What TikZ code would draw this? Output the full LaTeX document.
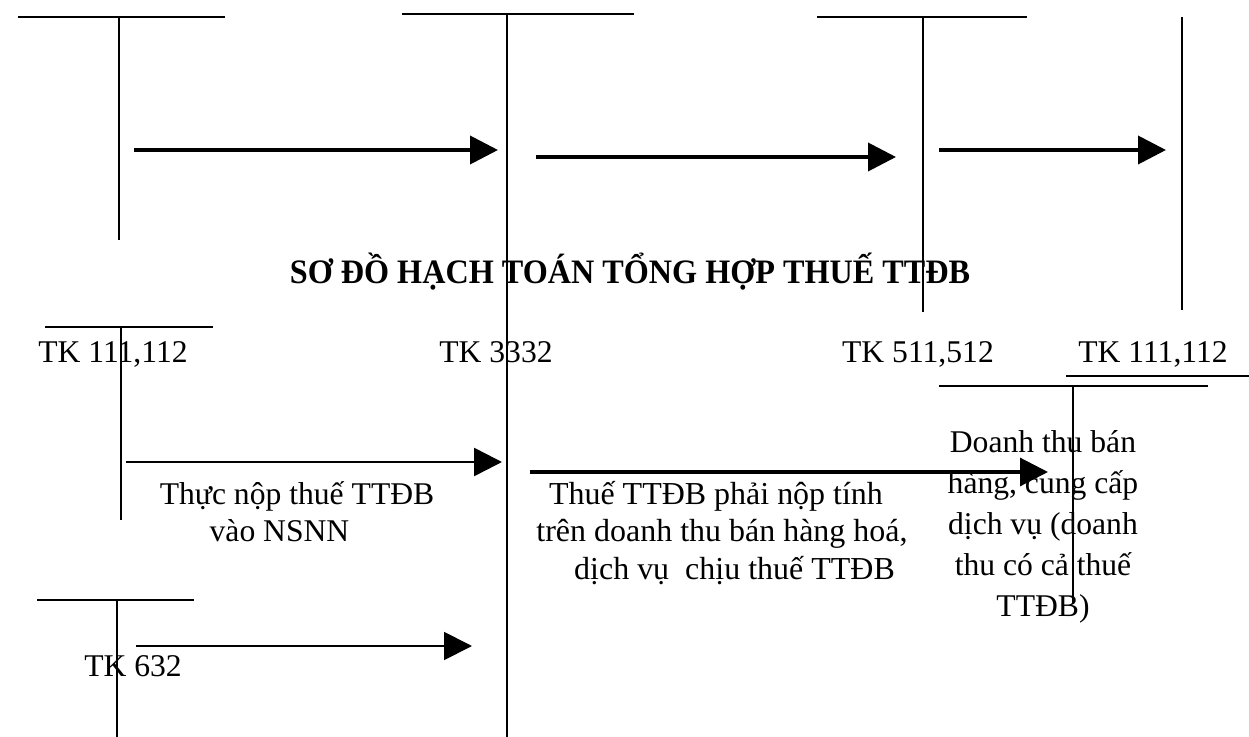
\documentclass[tikz,border=0pt]{standalone}
\usepackage{graphicx}
\usepackage{fontspec}
\setmainfont{Liberation Serif}
\usetikzlibrary{arrows.meta}
\begin{document}
\begin{tikzpicture}[x=0.02cm, y=-0.02cm,
  tline/.style={line width=0.85pt},
  flow/.style={line width=1.5pt, -{Triangle[length=0.56cm, width=0.56cm]}},
  lbl/.style={inner sep=0pt, anchor=base, font=\fontsize{18}{25}\selectfont},
  txt/.style={lbl, align=center, anchor=north}]
  \useasboundingbox (0,0) rectangle (1249,737);
  % T accounts
  \foreach \l/\r/\y/\x/\b in {18/225/17/119/240, 402/634/14/507/737,
      817/1027/17/923/312, 45/213/327/121/520, 37/194/600/117/737} {
    \draw[tline] (\l,\y) -- (\r,\y);
    \draw[tline] (\x,\y) -- (\x,\b);
  }
  \draw[tline] (1182,17) -- (1182,310);
  \draw[tline] (939,386) -- (1208,386);
  \draw[tline] (1073,386) -- (1073,604);
  \draw[tline] (1066,376) -- (1249,376);
  % Title
  \node[inner sep=0pt, anchor=base, font=\bfseries\fontsize{19.5}{23}\selectfont]
    (title) at (630,283) {\scalebox{0.94}[1]{SƠ ĐỒ HẠCH TOÁN TỔNG HỢP THUẾ TTĐB}};
  % Account names
  \node[lbl] (tk111) at (113,362) {TK 111,112};
  \node[lbl] (tk3332) at (496,362) {TK 3332};
  \node[lbl] (tk511) at (918,362) {TK 511,512};
  \node[lbl] (tk111b) at (1153,362) {TK 111,112};
  \node[lbl] (tk632) at (133,676) {TK 632};
  % Arrow ends
  \coordinate (a1s) at (134,150); \coordinate (a1e) at (498,150);
  \coordinate (a2s) at (536,157); \coordinate (a2e) at (896,157);
  \coordinate (a3s) at (939,150); \coordinate (a3e) at (1166,150);
  \coordinate (a4s) at (126,462); \coordinate (a4e) at (502,462);
  \coordinate (a5s) at (530,472); \coordinate (a5e) at (1048,472);
  \coordinate (a6s) at (136,646); \coordinate (a6e) at (472,646);
  \draw[flow, line width=2.2pt] (a1s) -- (a1e);
  \draw[flow, line width=2.2pt] (a2s) -- (a2e);
  \draw[flow, line width=2.2pt] (a3s) -- (a3e);
  \draw[flow] (a4s) -- (a4e);
  \draw[flow, line width=1.8pt] (a5s) -- (a5e);
  \draw[flow, line width=1.1pt] (a6s) -- (a6e);
  % Explanations
  \node[txt, font=\fontsize{18}{21.2}\selectfont] (pay) at (297,481)
    {Thực nộp thuế TTĐB\\vào NSNN\hspace*{0.7cm}};
  \node[txt, font=\fontsize{18.2}{21.2}\selectfont] (tax) at (722,481)
    {Thuế TTĐB phải nộp tính\hspace*{0.24cm}\\trên doanh thu bán hàng hoá,\\\hspace*{0.5cm}dịch vụ~ chịu thuế TTĐB};
  \node[txt, font=\fontsize{18}{23.4}\selectfont] (rev) at (1043,430)
    {Doanh thu bán\\hàng, cung cấp\\dịch vụ (doanh\\thu có cả thuế\\TTĐB)};
\end{tikzpicture}
\end{document}
